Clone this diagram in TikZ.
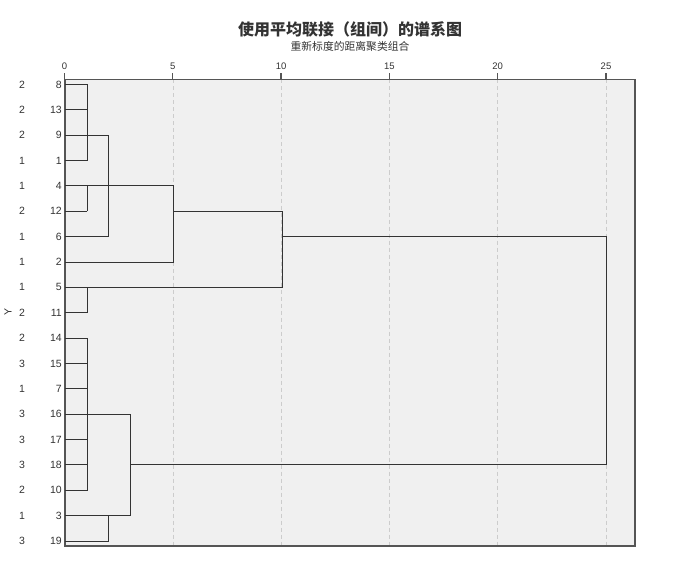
\documentclass[tikz,border=0pt]{standalone}
\usepackage{fontspec}
\setmainfont{Liberation Sans}
\newfontfamily\cjk{Noto Sans CJK SC}
\definecolor{plotbg}{HTML}{F0F0F0}
\definecolor{frameclr}{HTML}{555555}
\definecolor{lineclr}{HTML}{333333}
\definecolor{gridclr}{HTML}{CCCCCC}
\definecolor{txtclr}{HTML}{333333}
\begin{document}
\begin{tikzpicture}[x=1pt,y=-1pt,
  leaflab/.style={anchor=east,inner sep=0pt,font=\fontsize{10.5}{12}\selectfont,text=txtclr},
  grplab/.style={inner sep=0pt,font=\fontsize{10.5}{12}\selectfont,text=txtclr},
  ticklab/.style={inner sep=0pt,font=\fontsize{9.5}{11}\selectfont,text=txtclr},
  dend/.style={draw=lineclr,line width=0.9pt},
  gridln/.style={draw=gridclr,dash pattern=on 4pt off 3pt,line width=0.6pt},
  tickln/.style={draw=frameclr,line width=1.3pt}]
\path[use as bounding box] (0,0) rectangle (680,567);
% title
\node[inner sep=0pt,font=\cjk\bfseries\fontsize{16}{18}\selectfont,text=txtclr] (title) at (350,29) {使用平均联接（组间）的谱系图};
\node[inner sep=0pt,font=\cjk\fontsize{10.8}{12}\selectfont,text=txtclr] (subtitle) at (350,46.5) {重新标度的距离聚类组合};
% plot area
\path[fill=plotbg] (65,79.5) rectangle (635,546);
% grid + ticks
\foreach \d in {0,5,10,15,20,25}{
  \coordinate (T\d) at ({64.5+21.66*\d},79.5);
  \coordinate (B\d) at ({64.5+21.66*\d},546);
  \node[ticklab] (TL\d) at ({64.5+21.66*\d},66.5) {\d};
  \draw[tickln] (T\d) -- ++(0,-6.5);
}
\foreach \d in {5,10,15,20,25}{ \draw[gridln] (T\d) -- (B\d); }
\draw[draw=frameclr,line width=1.3pt] (65,79.5) rectangle (635,546);
% Y label
\node[grplab,rotate=90] (ylab) at (8,312) {Y};
% leaves
\foreach \c/\g [count=\i] in {8/2,13/2,9/2,1/1,4/1,12/2,6/1,2/1,5/1,11/2,14/2,15/3,7/1,16/3,17/3,18/3,10/2,3/1,19/3}{
  \coordinate (P\c) at (65,{84.5+25.36*(\i-1)});
  \node[leaflab] (L\c) at (62,{84.5+25.36*(\i-1)}) {\c};
  \node[grplab] (G\c) at (22,{84.5+25.36*(\i-1)}) {\g};
}
% merge heights
\coordinate (xa) at (87,0);
\coordinate (xb) at (108,0);
\coordinate (xc) at (130,0);
\coordinate (xd) at (173,0);
\coordinate (xe) at (282,0);
\coordinate (xf) at (606,0);
% cluster {8,13,9,1} and {4,12} joined with 6
\draw[dend] (P8) -- (P8 -| xa) -- (P1 -| xa) -- (P1);
\draw[dend] (P13) -- (P13 -| xa);
\draw[dend] (P9) -- (P9 -| xb) -- (P6 -| xb) -- (P6);
\draw[dend] (P4) -- (P4 -| xd) -- (P2 -| xd) -- (P2);
\draw[dend] (P12 -| xa) -- (P4 -| xa);
\draw[dend] (P12) -- (P12 -| xa);
% {5,11}
\draw[dend] (P5) -- (P5 -| xe) -- (P12 -| xe) -- (P12 -| xd);
\draw[dend] (P11) -- (P11 -| xa) -- (P5 -| xa);
% lower group
\draw[dend] (P14) -- (P14 -| xa) -- (P10 -| xa) -- (P10);
\foreach \c in {15,7,17,18}{ \draw[dend] (P\c) -- (P\c -| xa); }
\draw[dend] (P16) -- (P16 -| xc) -- (P3 -| xc) -- (P3);
\draw[dend] (P19) -- (P19 -| xb) -- (P3 -| xb);
% top merge
\draw[dend] (P6 -| xe) -- (P6 -| xf) -- (P18 -| xf) -- (P18 -| xc);
\end{tikzpicture}
\end{document}
